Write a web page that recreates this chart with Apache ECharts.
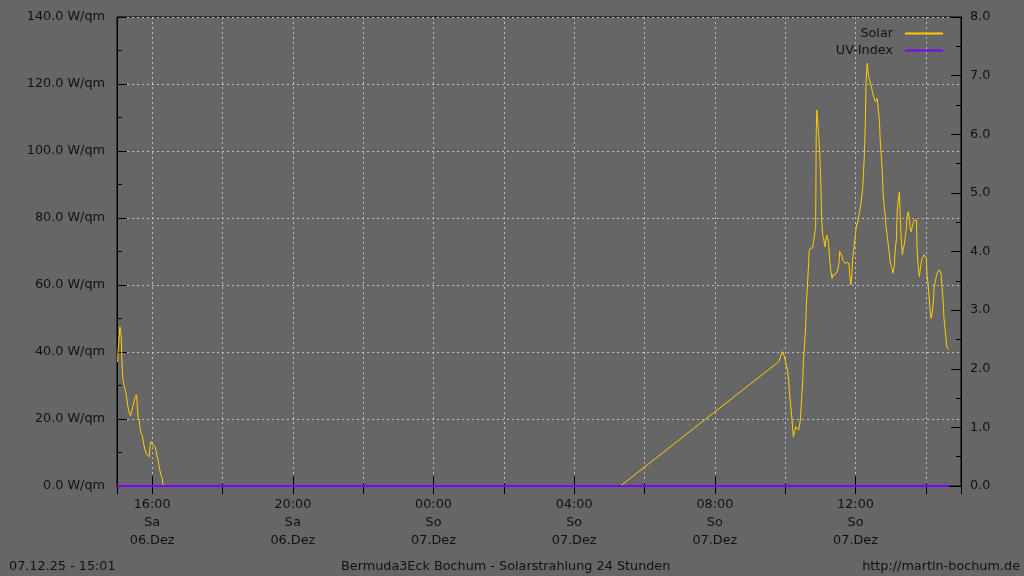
<!DOCTYPE html>
<html>
<head>
<meta charset="utf-8">
<script src="https://cdn.jsdelivr.net/npm/echarts@6/dist/echarts.min.js"></script>
<style>
html,body{margin:0;padding:0;background:#666666;}
#chart{width:1024px;height:576px;}
</style>
</head>
<body>
<div id="chart"></div>
<script>
// ---- data ----
const solarTimes = [
 '2025-12-06 15:01','2025-12-06 15:02','2025-12-06 15:04','2025-12-06 15:05','2025-12-06 15:07','2025-12-06 15:09',
 '2025-12-06 15:10','2025-12-06 15:12','2025-12-06 15:14','2025-12-06 15:16','2025-12-06 15:17','2025-12-06 15:19',
 '2025-12-06 15:21','2025-12-06 15:23','2025-12-06 15:25','2025-12-06 15:27','2025-12-06 15:31','2025-12-06 15:33',
 '2025-12-06 15:34','2025-12-06 15:36','2025-12-06 15:38','2025-12-06 15:39','2025-12-06 15:41','2025-12-06 15:43',
 '2025-12-06 15:44','2025-12-06 15:46','2025-12-06 15:48','2025-12-06 15:50','2025-12-06 15:51','2025-12-06 15:53',
 '2025-12-06 15:55','2025-12-06 15:56','2025-12-06 15:58','2025-12-06 16:00','2025-12-06 16:01','2025-12-06 16:03',
 '2025-12-06 16:05','2025-12-06 16:07','2025-12-06 16:08','2025-12-06 16:10','2025-12-06 16:12','2025-12-06 16:13',
 '2025-12-06 16:15','2025-12-06 16:17','2025-12-06 16:18','2025-12-06 16:20',
 '2025-12-07 05:19','2025-12-07 09:49','2025-12-07 09:55','2025-12-07 09:57','2025-12-07 09:59',
 '2025-12-07 10:01','2025-12-07 10:02','2025-12-07 10:04','2025-12-07 10:06','2025-12-07 10:07','2025-12-07 10:09',
 '2025-12-07 10:11','2025-12-07 10:13','2025-12-07 10:14','2025-12-07 10:16','2025-12-07 10:18','2025-12-07 10:19',
 '2025-12-07 10:21','2025-12-07 10:23','2025-12-07 10:24','2025-12-07 10:26','2025-12-07 10:28','2025-12-07 10:30',
 '2025-12-07 10:31','2025-12-07 10:33','2025-12-07 10:35','2025-12-07 10:36','2025-12-07 10:38','2025-12-07 10:40',
 '2025-12-07 10:41','2025-12-07 10:43','2025-12-07 10:45','2025-12-07 10:47','2025-12-07 10:48','2025-12-07 10:50',
 '2025-12-07 10:52','2025-12-07 10:53','2025-12-07 10:54','2025-12-07 10:56','2025-12-07 10:57','2025-12-07 10:59',
 '2025-12-07 11:01','2025-12-07 11:02','2025-12-07 11:04','2025-12-07 11:06','2025-12-07 11:08','2025-12-07 11:09',
 '2025-12-07 11:11','2025-12-07 11:13','2025-12-07 11:14','2025-12-07 11:16','2025-12-07 11:18','2025-12-07 11:20',
 '2025-12-07 11:21','2025-12-07 11:25','2025-12-07 11:28','2025-12-07 11:30','2025-12-07 11:32','2025-12-07 11:33',
 '2025-12-07 11:35','2025-12-07 11:37','2025-12-07 11:38','2025-12-07 11:40','2025-12-07 11:42','2025-12-07 11:43',
 '2025-12-07 11:45','2025-12-07 11:47','2025-12-07 11:49','2025-12-07 11:50','2025-12-07 11:52','2025-12-07 11:54',
 '2025-12-07 11:55','2025-12-07 11:57','2025-12-07 11:59','2025-12-07 12:01','2025-12-07 12:02','2025-12-07 12:04',
 '2025-12-07 12:06','2025-12-07 12:08','2025-12-07 12:10','2025-12-07 12:12','2025-12-07 12:13','2025-12-07 12:15',
 '2025-12-07 12:17','2025-12-07 12:18','2025-12-07 12:20','2025-12-07 12:22','2025-12-07 12:24','2025-12-07 12:25',
 '2025-12-07 12:27','2025-12-07 12:29','2025-12-07 12:30','2025-12-07 12:32','2025-12-07 12:34','2025-12-07 12:35',
 '2025-12-07 12:37','2025-12-07 12:39','2025-12-07 12:41','2025-12-07 12:42','2025-12-07 12:44','2025-12-07 12:46',
 '2025-12-07 12:47','2025-12-07 12:49','2025-12-07 12:51','2025-12-07 12:52','2025-12-07 12:54','2025-12-07 12:56',
 '2025-12-07 12:58','2025-12-07 12:59','2025-12-07 13:01','2025-12-07 13:03','2025-12-07 13:04','2025-12-07 13:06',
 '2025-12-07 13:08','2025-12-07 13:10','2025-12-07 13:11','2025-12-07 13:13','2025-12-07 13:15','2025-12-07 13:16',
 '2025-12-07 13:18','2025-12-07 13:20','2025-12-07 13:21','2025-12-07 13:23','2025-12-07 13:25','2025-12-07 13:27',
 '2025-12-07 13:28','2025-12-07 13:30','2025-12-07 13:32','2025-12-07 13:33','2025-12-07 13:35','2025-12-07 13:37',
 '2025-12-07 13:38','2025-12-07 13:40','2025-12-07 13:42','2025-12-07 13:44','2025-12-07 13:45','2025-12-07 13:47',
 '2025-12-07 13:49','2025-12-07 13:50','2025-12-07 13:52','2025-12-07 13:54','2025-12-07 13:55','2025-12-07 13:57',
 '2025-12-07 13:59','2025-12-07 14:01','2025-12-07 14:02','2025-12-07 14:04','2025-12-07 14:06','2025-12-07 14:07',
 '2025-12-07 14:09','2025-12-07 14:11','2025-12-07 14:13','2025-12-07 14:14','2025-12-07 14:16','2025-12-07 14:18',
 '2025-12-07 14:19','2025-12-07 14:21','2025-12-07 14:23','2025-12-07 14:24','2025-12-07 14:26','2025-12-07 14:28',
 '2025-12-07 14:30','2025-12-07 14:31','2025-12-07 14:33','2025-12-07 14:35','2025-12-07 14:36','2025-12-07 14:38',
 '2025-12-07 14:40'
];
const solarValues = [
 37,41,45,47.5,45,35,
 32,30,28.7,27,25.7,23.3,
 21.8,21,20.7,23.7,26.5,27.2,
 25.7,20.3,19.7,17.7,15.8,15.2,
 14.7,12.2,10.7,9.7,9.7,9.2,
 8.7,11.3,13.2,12.5,12.8,12.5,
 11.7,10.2,9.2,7.8,5.8,4.8,
 3.3,2.4,0.9,0,
 0,37.1,40.1,39.7,38.5,
 36.7,36.0,34.6,31.6,28.7,24.7,
 21.2,16.7,14.7,16.2,17.7,17.7,
 17.2,16.7,16.7,19.7,25.7,31.6,
 36.7,42,47.6,53.5,60,66.5,
 70,71,71.1,71.1,71.1,71,
 77.4,105,112.2,108,105,99.3,
 89.3,80.4,74.9,73.4,71.4,73.4,
 74.9,75.4,72.5,67.5,64,62,
 63,63,63,64.5,67,70,
 69.5,68.5,67.5,67,66.5,66,
 66.5,66.8,66,63.5,60,63.6,
 67.5,70.4,73.9,76.9,77.9,78.9,
 80.9,82.9,85.4,88.4,91.3,98.3,
 109.8,120.7,126.2,122.5,123,120.7,
 119.2,117.7,116.7,115.7,114.7,115.2,
 115.7,115.7,108.7,103.8,98.3,92.8,
 87.8,83.4,80.4,77.4,74.9,71.9,
 69,67,65.5,64.5,63.5,65.5,
 71,73.9,81.9,85.4,87.8,81.9,
 73.9,69,70.4,71.9,74.4,77.4,
 80.4,81.9,79.9,77.4,75.9,77.4,
 78.4,79.4,79.7,79.4,71,65.5,
 62.5,64,66.5,68,68.5,69,
 69.5,68,63,60,55.5,53,
 50,52,55.5,59,61,62.5,
 63.5,64,64.5,65,63.5,58.5,
 54,50,46.6,43,41.3,41.1,
 40.8
];
const uvTimes = ['2025-12-06 15:00','2025-12-06 20:00','2025-12-07 02:00','2025-12-07 08:00','2025-12-07 14:40'];
const uvValues = [0,0,0,0,0];

const axisStart = '2025-12-06 15:00';
const axisEnd = '2025-12-07 15:00';
const weekdayNames = ['So','Mo','Di','Mi','Do','Fr','Sa'];
const monthNames = ['Jan','Feb','Mär','Apr','Mai','Jun','Jul','Aug','Sep','Okt','Nov','Dez'];
const footerLeft = '07.12.25 - 15:01';
const footerCenter = 'Bermuda3Eck Bochum - Solarstrahlung 24 Stunden';
const footerRight = 'http://martin-bochum.de';

// ---- chart ----
const FONT = 'DejaVu Sans';
const FS = 12.8;
const TXT = '#111111';
const H = 3600 * 1000;
const pad = n => (n < 10 ? '0' : '') + n;
const solarData = solarTimes.map((t, i) => [t, solarValues[i]]);
const uvData = uvTimes.map((t, i) => [t, uvValues[i]]);

function xLabel(value) {
  const d = new Date(value);
  if (d.getMinutes() !== 0 || d.getHours() % 4 !== 0) return '';
  return pad(d.getHours()) + ':00\n' + weekdayNames[d.getDay()] + '\n' + pad(d.getDate()) + '.' + monthNames[d.getMonth()];
}

const chart = echarts.init(document.getElementById('chart'), null, {renderer: 'canvas'});
const gridLine = {show: true, lineStyle: {color: '#c0c0c0', type: [2, 3], width: 1}};
const footFont = FS + 'px "DejaVu Sans"';
chart.setOption({
  backgroundColor: '#666666',
  animation: false,
  textStyle: {fontFamily: FONT},
  grid: {left: 117, right: 63, top: 17, bottom: 90, show: true, borderColor: '#000', borderWidth: 1, backgroundColor: 'transparent'},
  legend: {
    orient: 'vertical', right: 75, top: 22, align: 'right', itemWidth: 38, itemHeight: 14, itemGap: 4,
    itemStyle: {opacity: 0},
    textStyle: {color: TXT, fontSize: FS, fontFamily: FONT, padding: [0, 7, 0, 0]},
    data: ['Solar', 'UV-Index']
  },
  xAxis: [
    {
      type: 'time', min: axisStart, max: axisEnd, minInterval: 4 * H, maxInterval: 4 * H, position: 'bottom',
      axisLine: {show: true, lineStyle: {color: '#000', width: 1}},
      axisTick: {show: true, inside: true, length: 10, lineStyle: {color: '#000'}},
      splitLine: {show: false},
      axisLabel: {formatter: xLabel, color: TXT, fontSize: FS, fontFamily: FONT, lineHeight: 18, margin: 10, hideOverlap: false, showMinLabel: true, showMaxLabel: true}
    },
    {
      type: 'time', min: axisStart, max: axisEnd, minInterval: 2.5 * H, maxInterval: 3 * H, position: 'top',
      axisLine: {show: true, lineStyle: {color: '#000', width: 1}},
      axisTick: {show: true, inside: true, length: 8, lineStyle: {color: '#000'}},
      axisLabel: {show: false},
      splitLine: gridLine
    },
    {
      type: 'time', min: axisStart, max: axisEnd, minInterval: 2.5 * H, maxInterval: 3 * H, position: 'bottom',
      axisLine: {show: false},
      axisTick: {show: true, inside: true, length: 3, lineStyle: {color: '#000'}},
      axisLabel: {show: false},
      splitLine: {show: false}
    }
  ],
  yAxis: [
    {
      type: 'value', min: 0, max: 140, interval: 20, position: 'left',
      axisLine: {show: true, lineStyle: {color: '#000'}},
      axisTick: {show: true, inside: true, length: 10, lineStyle: {color: '#000'}},
      minorTick: {show: true, splitNumber: 2, length: 5, lineStyle: {color: '#000'}},
      splitLine: gridLine,
      axisLabel: {formatter: v => v.toFixed(1) + ' W/qm', color: TXT, fontSize: FS, fontFamily: FONT, margin: 12}
    },
    {
      type: 'value', min: 0, max: 8, interval: 1, position: 'right',
      axisLine: {show: true, lineStyle: {color: '#000'}},
      axisTick: {show: true, inside: true, length: 10, lineStyle: {color: '#000'}},
      minorTick: {show: true, splitNumber: 2, length: 5, lineStyle: {color: '#000'}},
      splitLine: {show: false},
      axisLabel: {formatter: v => v.toFixed(1), color: TXT, fontSize: FS, fontFamily: FONT, margin: 9}
    }
  ],
  series: [
    {
      name: 'Solar', type: 'line', xAxisIndex: 0, yAxisIndex: 0, data: solarData,
      symbol: 'none', showSymbol: false, color: '#ffcc00',
      lineStyle: {color: '#ffcc00', width: 1}, z: 3
    },
    {
      name: 'UV-Index', type: 'line', xAxisIndex: 0, yAxisIndex: 1, data: uvData,
      symbol: 'none', showSymbol: false, color: '#8000ff', clip: false,
      lineStyle: {color: '#8000ff', width: 2}, z: 4
    }
  ],
  graphic: [
    {type: 'text', left: 9, top: 560, style: {text: footerLeft, fill: TXT, font: footFont}},
    {type: 'text', left: 341, top: 560, style: {text: footerCenter, fill: TXT, font: footFont}},
    {type: 'text', right: 4, top: 560, style: {text: footerRight, fill: TXT, font: footFont}}
  ]
});
</script>
</body>
</html>
